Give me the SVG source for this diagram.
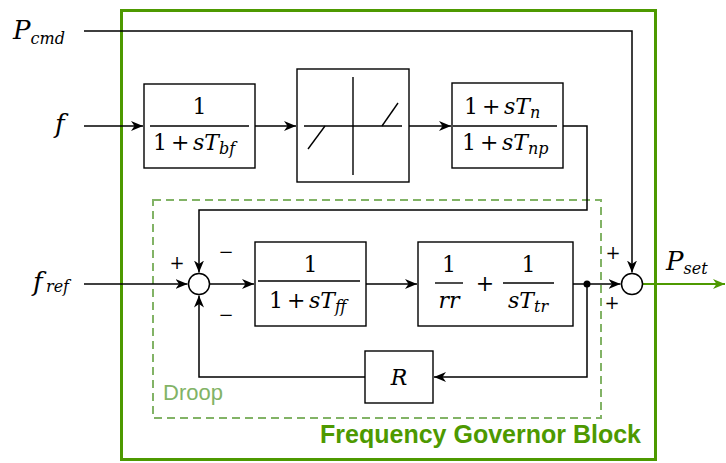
<svg xmlns="http://www.w3.org/2000/svg" width="726" height="463" viewBox="0 0 726 463">
<defs>
<style>
.blk{fill:#fff;stroke:#000;stroke-width:1.4}
.ln{fill:none;stroke:#000;stroke-width:1.5}
.bar{stroke:#000;stroke-width:1.4}
.m{font-size:22px;fill:#000}
.i{font-style:italic}
.sb{font-style:italic;font-size:16px}
.pl{font-size:22px;font-style:normal}
.sg{font-size:18px;fill:#000;text-anchor:middle}
.big{font-style:italic;font-size:26px;fill:#000}
.bsub{font-size:16px}
</style>
<marker id="ar" viewBox="0 0 12 10" refX="12" refY="5" markerWidth="12" markerHeight="10" markerUnits="userSpaceOnUse" orient="auto">
<path d="M0,0 L12,5 L0,10 L3.5,5 Z" fill="#000"/>
</marker>
<marker id="arg" viewBox="0 0 12 10" refX="12" refY="5" markerWidth="12" markerHeight="10" markerUnits="userSpaceOnUse" orient="auto">
<path d="M0,0 L12,5 L0,10 L3.5,5 Z" fill="#4D9900"/>
</marker>
</defs>
<rect width="726" height="463" fill="#fff"/>

<g id="governor">
<rect x="121.5" y="10.5" width="534" height="449" fill="none" stroke="#4D9900" stroke-width="3"/>
<text x="641" y="443" text-anchor="end" font-family="Liberation Sans,Arial,sans-serif" font-weight="bold" font-size="25" fill="#4D9900">Frequency Governor Block</text>
</g>

<g id="droop">
<rect x="153" y="200" width="448" height="218" fill="none" stroke="#82B366" stroke-width="2" stroke-dasharray="8 5"/>
<text x="163" y="400" font-family="Liberation Sans,Arial,sans-serif" font-size="22" fill="#82B366">Droop</text>
</g>

<g id="connectors">
<path class="ln" d="M84,31 H632 V272.5" marker-end="url(#ar)"/>
<path class="ln" d="M84,126 H143" marker-end="url(#ar)"/>
<path class="ln" d="M255,126 H296" marker-end="url(#ar)"/>
<path class="ln" d="M409,126 H451" marker-end="url(#ar)"/>
<path class="ln" d="M563,126 H587 V210 H199 V272.5" marker-end="url(#ar)"/>
<path class="ln" d="M84,284 H187.5" marker-end="url(#ar)"/>
<path class="ln" d="M209.5,284 H254" marker-end="url(#ar)"/>
<path class="ln" d="M366,284 H417" marker-end="url(#ar)"/>
<path class="ln" d="M573,284 H620.5" marker-end="url(#ar)"/>
<path class="ln" d="M587,284 V377 H434" marker-end="url(#ar)"/>
<path class="ln" d="M365,377 H199 V295.5" marker-end="url(#ar)"/>
<path d="M642.5,284 H725" fill="none" stroke="#4D9900" stroke-width="2" marker-end="url(#arg)"/>
<circle cx="587" cy="284" r="3.5" fill="#000"/>
</g>

<g font-family="DejaVu Serif, serif">
<g id="inputs">
<text class="big" x="13" y="39">P<tspan class="bsub" dy="5">cmd</tspan></text>
<text class="big" x="55" y="133">f</text>
<text class="big" x="33" y="291">f<tspan class="bsub" x="46" dy="1">ref</tspan></text>
<text class="big" x="666" y="270" fill="#4D9900">P<tspan class="bsub" dy="4">set</tspan></text>
</g>

<g id="signs">
<text class="sg" x="177" y="269">+</text>
<text class="sg" x="226" y="258">−</text>
<text class="sg" x="226" y="321">−</text>
<text class="sg" x="613" y="259">+</text>
<text class="sg" x="612" y="309">+</text>
</g>

<g id="filter_bf">
<rect class="blk" x="144" y="84" width="111" height="84"/>
<text class="m" x="199.5" y="114" text-anchor="middle">1</text>
<line class="bar" x1="150" y1="126" x2="249" y2="126"/>
<text class="m" y="150"><tspan x="153">1</tspan><tspan class="pl" x="171">+</tspan><tspan class="i" x="193">sT</tspan><tspan class="sb" dy="4">bf</tspan></text>
</g>

<g id="deadband">
<rect class="blk" x="297" y="69" width="112" height="113"/>
<line class="bar" x1="304" y1="126" x2="402" y2="126"/>
<line class="bar" x1="353" y1="77" x2="353" y2="175"/>
<line class="bar" x1="308" y1="149" x2="325" y2="126"/>
<line class="bar" x1="382" y1="126" x2="398" y2="103"/>
</g>

<g id="leadlag">
<rect class="blk" x="452" y="83" width="111" height="85"/>
<text class="m" y="114"><tspan x="464">1</tspan><tspan class="pl" x="482">+</tspan><tspan class="i" x="504">sT</tspan><tspan class="sb" dy="4">n</tspan></text>
<line class="bar" x1="453" y1="126" x2="557" y2="126"/>
<text class="m" y="150"><tspan x="462">1</tspan><tspan class="pl" x="480">+</tspan><tspan class="i" x="502">sT</tspan><tspan class="sb" dy="4">np</tspan></text>
</g>

<g id="sum1">
<circle cx="199" cy="284" r="10.5" fill="#fff" stroke="#000" stroke-width="1.5"/>
</g>

<g id="filter_ff">
<rect class="blk" x="255" y="242" width="111" height="84"/>
<text class="m" x="310.5" y="272" text-anchor="middle">1</text>
<line class="bar" x1="258" y1="281" x2="360" y2="281"/>
<text class="m" y="308"><tspan x="269">1</tspan><tspan class="pl" x="287">+</tspan><tspan class="i" x="309">sT</tspan><tspan class="sb" dy="4">ff</tspan></text>
</g>

<g id="pi_tr">
<rect class="blk" x="418" y="242" width="155" height="84"/>
<text class="m" x="449" y="272" text-anchor="middle">1</text>
<line class="bar" x1="435" y1="283" x2="463" y2="283"/>
<text class="m i" x="449" y="308" text-anchor="middle">rr</text>
<text class="m" x="485" y="291" text-anchor="middle">+</text>
<text class="m" x="528.5" y="272" text-anchor="middle">1</text>
<line class="bar" x1="503" y1="283" x2="554" y2="283"/>
<text class="m" y="308"><tspan class="i" x="508">sT</tspan><tspan class="sb" dy="4">tr</tspan></text>
</g>

<g id="sum2">
<circle cx="632" cy="284" r="10.5" fill="#fff" stroke="#000" stroke-width="1.5"/>
</g>

<g id="gain_R">
<rect class="blk" x="365" y="351" width="68" height="52"/>
<text class="m i" x="399" y="385" text-anchor="middle" font-size="24">R</text>
</g>
</g>
</svg>
